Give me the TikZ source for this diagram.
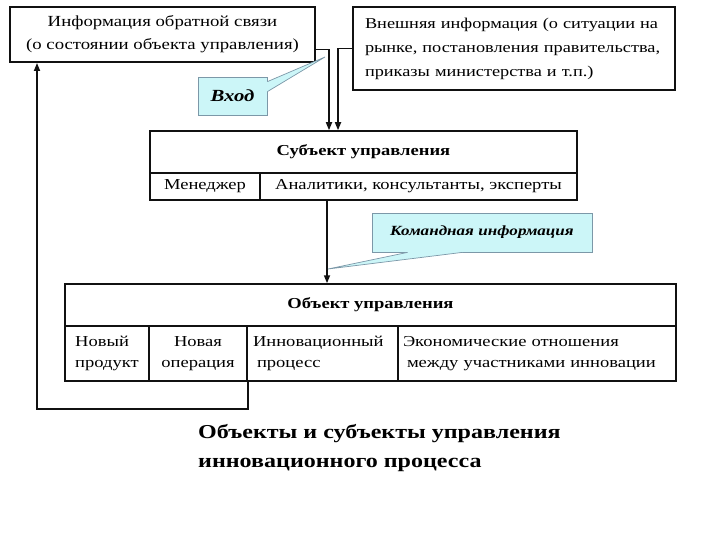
\documentclass[tikz,border=0pt]{standalone}
\usepackage{fontspec}
\setmainfont[FakeStretch=1.22]{Liberation Serif}
\usetikzlibrary{arrows.meta,positioning,calc}
\definecolor{ink}{HTML}{111111}
\definecolor{callfill}{HTML}{CCF6F8}
\definecolor{calldraw}{HTML}{7C98A8}
\tikzset{
  flow/.style={-{Triangle[length=8pt,width=6pt]},draw=ink,line width=1.6pt},
  infobox/.style={draw=ink,line width=2pt,fill=white,inner sep=0pt,
    font=\fontsize{15.4}{23}\selectfont},
  headcell/.style={draw=ink,line width=1.5pt,inner sep=0pt,
    font=\fontsize{15.2}{20}\selectfont\bfseries},
  cell/.style={draw=ink,line width=1.5pt,inner sep=0pt,
    font=\fontsize{15.2}{21}\selectfont},
  callbox/.style={draw=calldraw,line width=.7pt,fill=callfill,inner sep=0pt,
    font=\fontsize{14}{16}\selectfont\bfseries\itshape},
  pointer/.style={draw=calldraw,line width=.7pt},
  caption/.style={font=\fontsize{19.7}{29}\selectfont\bfseries,align=left,
    anchor=north west,inner sep=0pt},
}

\begin{document}
\begin{tikzpicture}[x=1pt,y=-1pt]
\useasboundingbox (0,0) rectangle (720,540);
% top row
\node[infobox,minimum width=305,minimum height=55,align=center] (feedback) at (162.5,34.5)
  {Информация обратной связи\\(о состоянии объекта управления)};
\node[infobox,minimum width=322,minimum height=83,text width=298,align=left,
  font=\fontsize{15}{24}\selectfont] (external) at (514,48.5)
  {Внешняя информация (о ситуации на\\рынке, постановления правительства,\\приказы министерства и т.п.)};
% subject of management
\node[headcell,minimum width=427,minimum height=42] (subject) at (363.5,152) {Субъект управления};
\node[cell,minimum width=110,minimum height=27] (manager) at (205,186.5) {Менеджер};
\node[cell,minimum width=317,minimum height=27] (analysts) at (418.5,186.5) {Аналитики, консультанты, эксперты};
% object of management
\node[headcell,minimum width=611,minimum height=42] (object) at (370.5,305) {Объект управления};
\node[cell,minimum width=84,minimum height=55,align=left] (product) at (107,353.5) {Новый\\продукт};
\node[cell,minimum width=98,minimum height=55,align=center] (operation) at (198,353.5) {Новая\\операция};
\node[cell,minimum width=151,minimum height=55,text width=139,align=left] (process) at (322.5,353.5)
  {Инновационный\\\hspace*{4pt}процесс};
\node[cell,minimum width=278,minimum height=55,text width=268,align=left] (relations) at (537,353.5)
  {Экономические отношения\\\hspace*{4pt}между участниками инновации};
% connectors
\draw[flow] ([yshift=-15pt]feedback.east) -| ([xshift=-34.5pt]subject.north);
\draw[flow] (external.west) -| ([xshift=-25.5pt]subject.north);
\draw[flow] (analysts.south -| 327,0) -- (object.north -| 327,0);
\draw[flow] (operation.south east) -- ++(0,27) -| ([xshift=28pt]feedback.south west);
% callouts
\node[callbox,minimum width=69,minimum height=38,font=\fontsize{17}{18}\selectfont\bfseries\itshape]
  (input) at (232.5,96) {Вход};
\coordinate (inputtip) at (325,57);
\fill[callfill] ([shift={(-2pt,-5pt)}]input.north east) -- ([yshift=-5pt]input.north east)
  -- (inputtip) -- ([yshift=-15pt]input.north east) -- ([shift={(-2pt,-15pt)}]input.north east) -- cycle;
\draw[pointer] ([yshift=-5pt]input.north east) -- (inputtip) -- ([yshift=-15pt]input.north east);
\node[callbox,minimum width=220,minimum height=39] (command) at (482,232.5) {Командная информация};
\coordinate (commandtip) at (328,269);
\fill[callfill] ([shift={(36pt,2pt)}]command.south west) -- ([xshift=36pt]command.south west)
  -- (commandtip) -- ([xshift=91pt]command.south west) -- ([shift={(91pt,2pt)}]command.south west) -- cycle;
\draw[pointer] ([xshift=36pt]command.south west) -- (commandtip) -- ([xshift=91pt]command.south west);
% caption
\node[caption] (title) at (198,424) {Объекты и субъекты управления\\инновационного процесса};
\end{tikzpicture}
\end{document}
